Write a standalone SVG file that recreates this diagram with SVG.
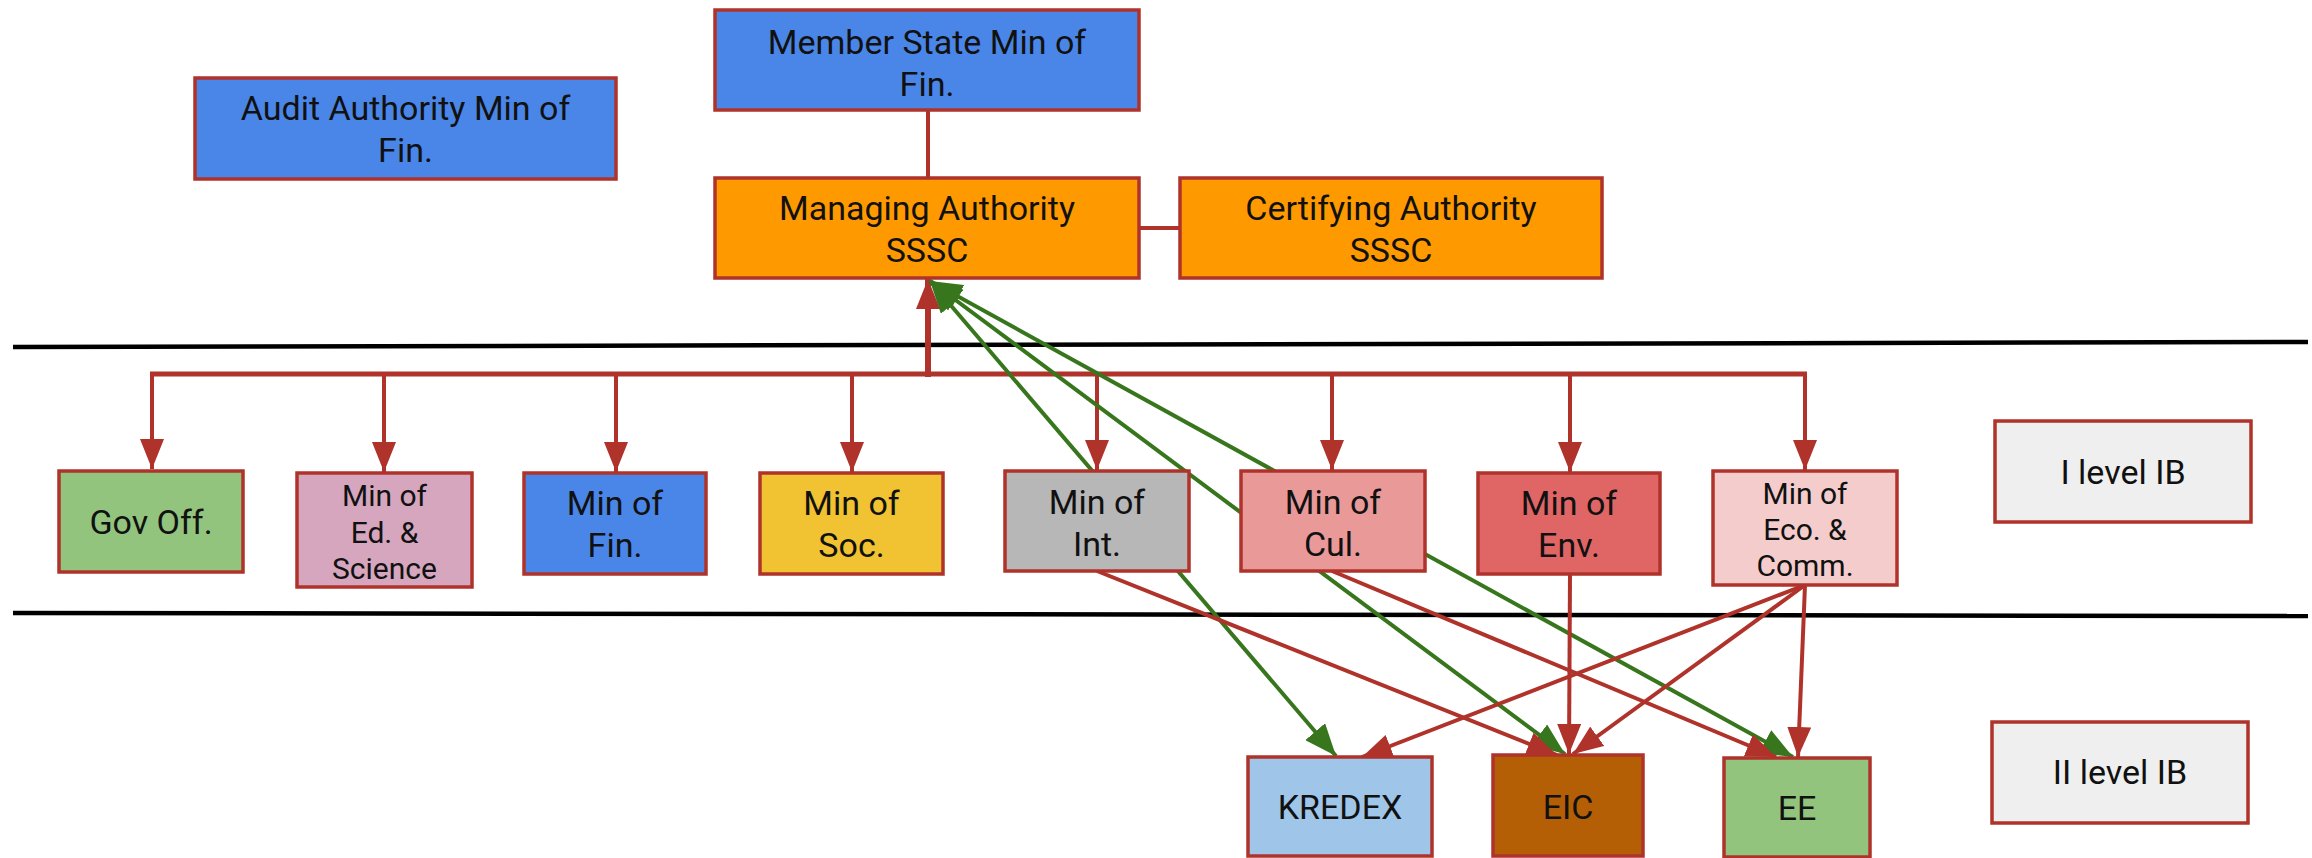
<svg xmlns="http://www.w3.org/2000/svg" width="2312" height="858" viewBox="0 0 2312 858">
<defs>
<style>
.box{stroke:#b0332b;stroke-width:3.5}
.t{font-family:Roboto,"Liberation Sans",sans-serif;font-size:34px;fill:#111;text-anchor:middle}
.s{font-size:30px}
.sep{stroke:#000;stroke-width:4.5;fill:none}
.r{stroke:#b0332b;stroke-width:4;fill:none}
.g{stroke:#38761d;stroke-width:4;fill:none}
</style>
<marker id="ar" viewBox="0 0 30 24" refX="30" refY="12" markerWidth="30" markerHeight="24" markerUnits="userSpaceOnUse" orient="auto"><path d="M0,0 L30,12 L0,24 z" fill="#b0332b"/></marker>
<marker id="ag" viewBox="0 0 32 26" refX="32" refY="13" markerWidth="32" markerHeight="26" markerUnits="userSpaceOnUse" orient="auto-start-reverse"><path d="M0,0 L32,13 L0,26 z" fill="#38761d"/></marker>
</defs>
<rect width="2312" height="858" fill="#fff"/>
<g id="separators">
<line class="sep" x1="13" y1="347" x2="2308" y2="342"/>
<line class="sep" x1="13" y1="613" x2="2308" y2="616"/>
</g>
<g id="connectors">
<line class="r" x1="928" y1="111" x2="928" y2="178"/>
<line class="r" x1="1139" y1="228" x2="1180" y2="228"/>
<line class="r" style="stroke-width:5" x1="150" y1="374" x2="1807" y2="374"/>
<line class="r" style="stroke-width:6" x1="928" y1="377" x2="928" y2="279" marker-end="url(#ar)"/>
<line class="r" x1="152" y1="374" x2="152" y2="469" marker-end="url(#ar)"/>
<line class="r" x1="384" y1="374" x2="384" y2="472" marker-end="url(#ar)"/>
<line class="r" x1="616" y1="374" x2="616" y2="472" marker-end="url(#ar)"/>
<line class="r" x1="852" y1="374" x2="852" y2="472" marker-end="url(#ar)"/>
<line class="r" x1="1097" y1="374" x2="1097" y2="470" marker-end="url(#ar)"/>
<line class="r" x1="1332" y1="374" x2="1332" y2="470" marker-end="url(#ar)"/>
<line class="r" x1="1570" y1="374" x2="1570" y2="472" marker-end="url(#ar)"/>
<line class="r" x1="1805" y1="374" x2="1805" y2="470" marker-end="url(#ar)"/>
<line class="g" x1="930" y1="281" x2="1336" y2="756" marker-start="url(#ag)" marker-end="url(#ag)"/>
<line class="g" x1="930" y1="281" x2="1565" y2="754" marker-start="url(#ag)" marker-end="url(#ag)"/>
<line class="g" x1="930" y1="281" x2="1793" y2="757" marker-start="url(#ag)" marker-end="url(#ag)"/>
<line class="r" x1="1097" y1="571" x2="1557" y2="755" marker-end="url(#ar)"/>
<line class="r" x1="1332" y1="571" x2="1776" y2="757" marker-end="url(#ar)"/>
<line class="r" x1="1570" y1="574" x2="1569" y2="754" marker-end="url(#ar)"/>
<line class="r" x1="1805" y1="585" x2="1362" y2="757" marker-end="url(#ar)"/>
<line class="r" x1="1805" y1="585" x2="1573" y2="754" marker-end="url(#ar)"/>
<line class="r" x1="1805" y1="585" x2="1798" y2="757" marker-end="url(#ar)"/>
</g>
<g id="audit"><rect class="box" x="195" y="78" width="421" height="101" fill="#4a86e8"/><text class="t" x="405.5" y="120">Audit Authority Min of</text><text class="t" x="405.5" y="162">Fin.</text></g>
<g id="member"><rect class="box" x="715" y="10" width="424" height="100" fill="#4a86e8"/><text class="t" x="927" y="54">Member State Min of</text><text class="t" x="927" y="96">Fin.</text></g>
<g id="managing"><rect class="box" x="715" y="178" width="424" height="100" fill="#ff9900"/><text class="t" x="927" y="220">Managing Authority</text><text class="t" x="927" y="262">SSSC</text></g>
<g id="certifying"><rect class="box" x="1180" y="178" width="422" height="100" fill="#ff9900"/><text class="t" x="1391" y="220">Certifying Authority</text><text class="t" x="1391" y="262">SSSC</text></g>
<g id="gov"><rect class="box" x="59" y="471" width="184" height="101" fill="#93c47d"/><text class="t" x="151" y="534">Gov Off.</text></g>
<g id="edu"><rect class="box" x="297" y="473" width="175" height="114" fill="#d5a6bd"/><text class="t s" x="384.5" y="506">Min of</text><text class="t s" x="384.5" y="543">Ed. &amp;</text><text class="t s" x="384.5" y="579">Science</text></g>
<g id="fin"><rect class="box" x="524" y="473" width="182" height="101" fill="#4a86e8"/><text class="t" x="615" y="515">Min of</text><text class="t" x="615" y="557">Fin.</text></g>
<g id="soc"><rect class="box" x="760" y="473" width="183" height="101" fill="#f1c232"/><text class="t" x="851.5" y="515">Min of</text><text class="t" x="851.5" y="557">Soc.</text></g>
<g id="int"><rect class="box" x="1005" y="471" width="184" height="100" fill="#b7b7b7"/><text class="t" x="1097" y="514">Min of</text><text class="t" x="1097" y="556">Int.</text></g>
<g id="cul"><rect class="box" x="1241" y="471" width="184" height="100" fill="#ea9999"/><text class="t" x="1333" y="514">Min of</text><text class="t" x="1333" y="556">Cul.</text></g>
<g id="env"><rect class="box" x="1478" y="473" width="182" height="101" fill="#e06666"/><text class="t" x="1569" y="515">Min of</text><text class="t" x="1569" y="557">Env.</text></g>
<g id="eco"><rect class="box" x="1713" y="471" width="184" height="114" fill="#f4cccc"/><text class="t s" x="1805" y="504">Min of</text><text class="t s" x="1805" y="540">Eco. &amp;</text><text class="t s" x="1805" y="576">Comm.</text></g>
<g id="level1"><rect class="box" x="1995" y="421" width="256" height="101" fill="#efefef"/><text class="t" x="2123" y="484">I level IB</text></g>
<g id="level2"><rect class="box" x="1992" y="722" width="256" height="101" fill="#efefef"/><text class="t" x="2120" y="784">II level IB</text></g>
<g id="kredex"><rect class="box" x="1248" y="757" width="184" height="99" fill="#9fc5e8"/><text class="t" x="1340" y="819">KREDEX</text></g>
<g id="eic"><rect class="box" x="1493" y="755" width="150" height="101" fill="#b45f06"/><text class="t" x="1568" y="819">EIC</text></g>
<g id="ee"><rect class="box" x="1724" y="758" width="146" height="99" fill="#93c47d"/><text class="t" x="1797" y="820">EE</text></g>
</svg>
